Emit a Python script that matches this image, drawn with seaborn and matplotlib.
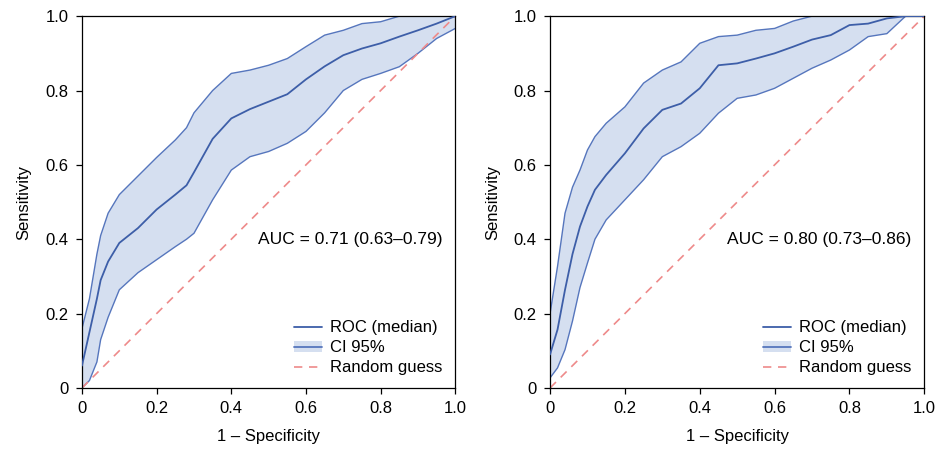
import numpy as np
import pandas as pd
import matplotlib
matplotlib.use("Agg")
import matplotlib.pyplot as plt
import seaborn as sns
from matplotlib.patches import Patch
from matplotlib.lines import Line2D

# ---- left panel: ROC median + 95% CI ----
left_x = [0, 0.02, 0.04, 0.05, 0.07, 0.1, 0.15, 0.2, 0.25, 0.28, 0.3, 0.35, 0.4, 0.45,
          0.5, 0.55, 0.6, 0.65, 0.7, 0.75, 0.8, 0.85, 0.9, 0.95, 1.0]
left_median = [0.06, 0.15, 0.24, 0.29, 0.34, 0.39, 0.43, 0.48, 0.52, 0.545, 0.58, 0.67, 0.725, 0.75,
               0.77, 0.79, 0.83, 0.865, 0.895, 0.913, 0.927, 0.945, 0.962, 0.98, 1.0]
left_upper = [0.16, 0.24, 0.36, 0.41, 0.47, 0.52, 0.57, 0.62, 0.667, 0.70, 0.74, 0.80, 0.846, 0.855,
              0.868, 0.886, 0.918, 0.949, 0.962, 0.98, 0.985, 1.0, 1.0, 1.0, 1.0]
left_lower = [0.0, 0.02, 0.07, 0.13, 0.19, 0.264, 0.31, 0.345, 0.38, 0.40, 0.416, 0.506, 0.586, 0.622,
              0.636, 0.658, 0.69, 0.74, 0.80, 0.83, 0.846, 0.864, 0.90, 0.94, 0.967]

# ---- right panel ----
right_x = [0, 0.02, 0.04, 0.06, 0.08, 0.1, 0.12, 0.15, 0.2, 0.25, 0.3, 0.35, 0.4, 0.45,
           0.5, 0.55, 0.6, 0.65, 0.7, 0.75, 0.8, 0.85, 0.9, 0.95, 1.0]
right_median = [0.09, 0.157, 0.264, 0.36, 0.434, 0.488, 0.533, 0.573, 0.631, 0.698, 0.748, 0.765, 0.806, 0.868,
                0.873, 0.886, 0.90, 0.918, 0.937, 0.949, 0.976, 0.98, 0.994, 1.0, 1.0]
right_upper = [0.2, 0.327, 0.47, 0.54, 0.586, 0.64, 0.676, 0.712, 0.756, 0.82, 0.855, 0.877, 0.927, 0.945,
               0.949, 0.962, 0.967, 0.987, 1.0, 1.0, 1.0, 1.0, 1.0, 1.0, 1.0]
right_lower = [0.027, 0.054, 0.103, 0.18, 0.27, 0.336, 0.40, 0.452, 0.506, 0.56, 0.622, 0.649, 0.685, 0.739,
               0.779, 0.788, 0.806, 0.833, 0.86, 0.882, 0.909, 0.945, 0.953, 1.0, 1.0]

auc_labels = ["AUC = 0.71 (0.63\u20130.79)", "AUC = 0.80 (0.73\u20130.86)"]
tick_vals = [0, 0.2, 0.4, 0.6, 0.8, 1.0]
tick_labels = ["0", "0.2", "0.4", "0.6", "0.8", "1.0"]

sns.set_style("ticks")
plt.rcParams['font.family'] = ['Liberation Sans', 'DejaVu Sans']
plt.rcParams.update({"text.color": "black", "axes.labelcolor": "black",
                     "xtick.color": "black", "ytick.color": "black"})

line_color = "#3d5ea8"
fill_color = "#d5dff0"
edge_color = "#5676bd"
diag_color = "#ee8a8a"
fs = 12

fig = plt.figure(figsize=(9.38, 4.49), dpi=100)
ax_left = fig.add_axes([0.0874, 0.136, 0.398, 0.828])
ax_right = fig.add_axes([0.5864, 0.136, 0.399, 0.828])

panels = [
    (ax_left, left_x, left_median, left_upper, left_lower, auc_labels[0]),
    (ax_right, right_x, right_median, right_upper, right_lower, auc_labels[1]),
]

for ax, xs, med, up, lo, auc in panels:
    df = pd.DataFrame({"fpr": xs, "tpr": med})
    ax.fill_between(xs, lo, up, facecolor=fill_color, edgecolor="none", zorder=1)
    ax.plot(xs, up, color=edge_color, lw=1.0, zorder=2)
    ax.plot(xs, lo, color=edge_color, lw=1.0, zorder=2)
    sns.lineplot(data=df, x="fpr", y="tpr", ax=ax, color=line_color, lw=1.3, zorder=3)
    ax.plot([0, 1], [0, 1], ls=(0, (5, 4)), color=diag_color, lw=1.2, zorder=2)

    ax.set_xlim(0, 1)
    ax.set_ylim(0, 1)
    ax.set_xticks(tick_vals)
    ax.set_xticklabels(tick_labels)
    ax.set_yticks(tick_vals)
    ax.set_yticklabels(tick_labels)
    ax.tick_params(direction="out", length=4.5, width=0.9, pad=5, labelsize=fs,
                   color="black", labelcolor="black")
    for sp in ax.spines.values():
        sp.set_visible(True)
        sp.set_linewidth(0.9)
        sp.set_color("black")
    ax.set_xlabel("1 \u2013 Specificity", fontsize=fs, labelpad=9)
    ax.set_ylabel("Sensitivity", fontsize=fs, labelpad=10)

    ax.text(0.965, 0.4, auc, transform=ax.transAxes, ha="right", va="center", fontsize=12.5)

    handles = [
        Line2D([], [], color=line_color, lw=1.3),
        (Patch(facecolor=fill_color, edgecolor="none"), Line2D([], [], color=edge_color, lw=1.3)),
        Line2D([], [], color=diag_color, lw=1.2, ls=(0, (5, 4))),
    ]
    ax.legend(handles, ["ROC (median)", "CI 95%", "Random guess"], loc="lower right",
              frameon=False, fontsize=fs, handlelength=1.7, handletextpad=0.5,
              labelspacing=0.3, borderaxespad=0.35)

fig.savefig("out.png", dpi=100)
